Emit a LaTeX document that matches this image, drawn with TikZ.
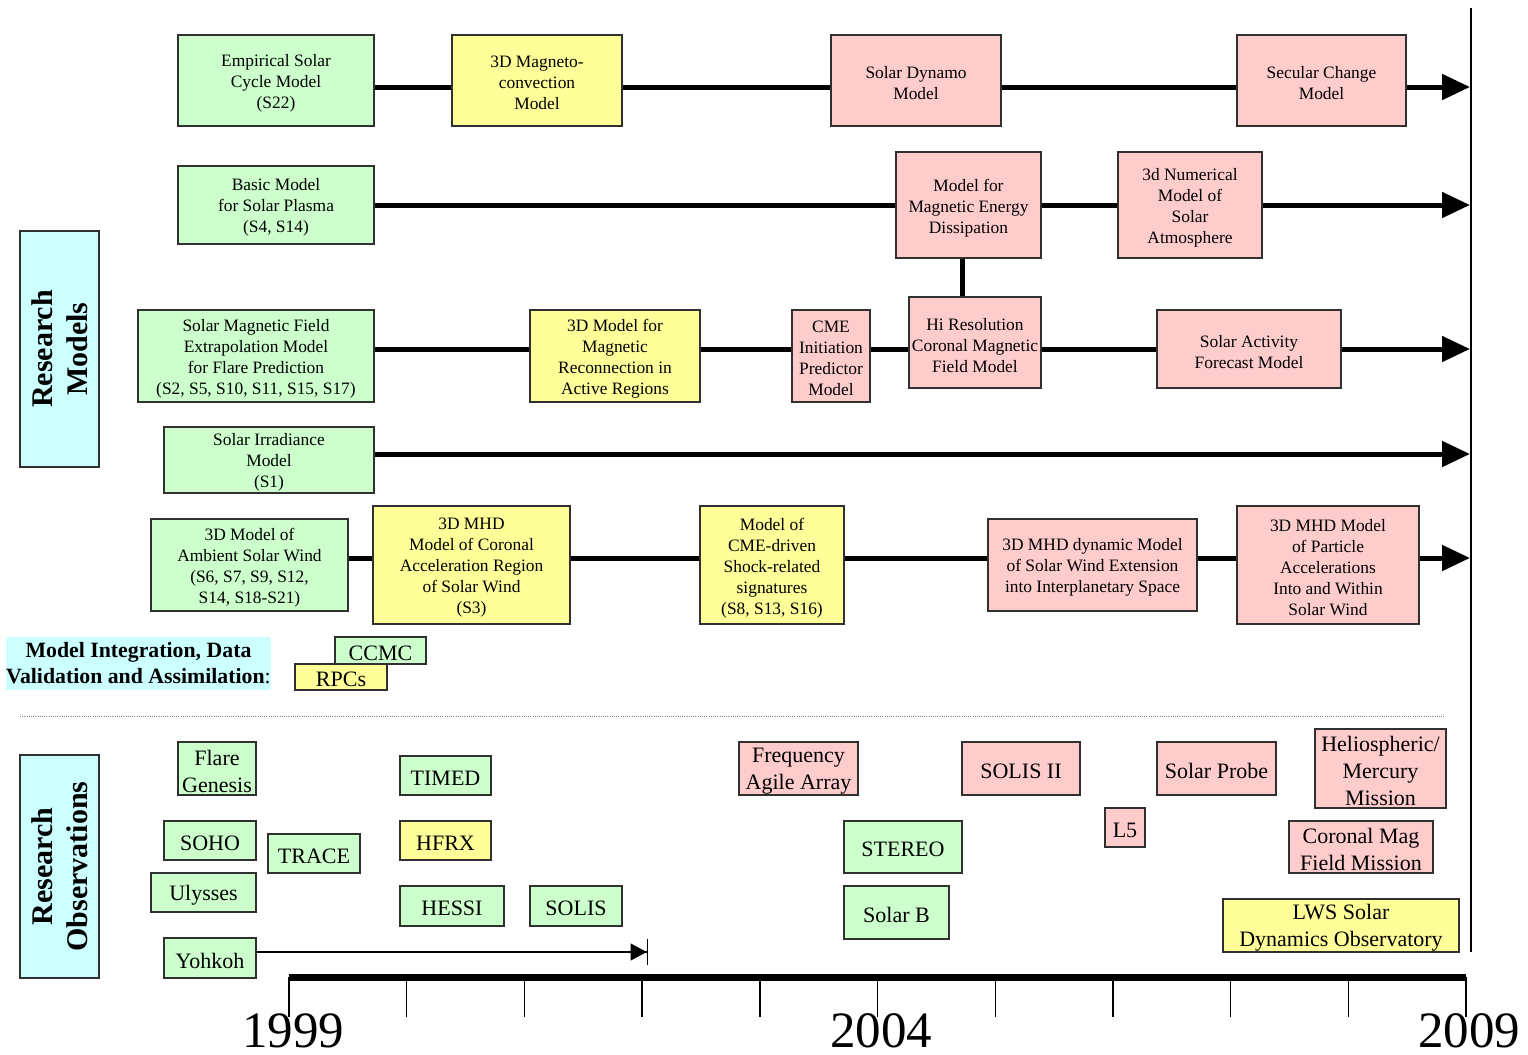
\documentclass[tikz,border=0pt]{standalone}
\usepackage{fontspec}
\setmainfont{Liberation Serif}
\usetikzlibrary{arrows.meta}
\definecolor{cgreen}{HTML}{CCFFCC}
\definecolor{cyellow}{HTML}{FFFF99}
\definecolor{cpink}{HTML}{FFCCCC}
\definecolor{ccyan}{HTML}{CCFFFF}
\definecolor{cedge}{HTML}{303030}
\begin{document}
\begin{tikzpicture}[x=0.5pt,y=-0.5pt,
  box/.style={draw=cedge, line width=0.75pt, inner sep=0pt, anchor=center},
  sz/.style 2 args={minimum width=#1*0.5pt, minimum height=#2*0.5pt},
  mlab/.style={align=center, inner sep=0pt, yshift=-1.4pt, font=\fontsize{8.7}{10.5}\selectfont},
  olab/.style={align=center, inner sep=0pt, yshift=-1.3pt, font=\fontsize{11}{13.5}\selectfont},
  mt/.style={label={[mlab]center:#1}},
  ot/.style={label={[olab]center:#1}},
  gm/.style={box, fill=cgreen},
  ym/.style={box, fill=cyellow},
  pm/.style={box, fill=cpink},
  conn/.style={line width=2.5pt},
  arr/.style={conn, -{Triangle[length=14pt,width=12.5pt]}},
  lbl/.style={draw=cedge, fill=ccyan, line width=0.75pt, rotate=90, align=center, inner sep=0pt,
              font=\bfseries\fontsize{15}{17.5}\selectfont},
  year/.style={font=\fontsize{25.5}{30}\selectfont, inner sep=0pt},
  tick/.style={line width=0.7pt}
]
\useasboundingbox (0,0) rectangle (1528,1055);

% row coordinates
\coordinate (r1) at (0,87);
\coordinate (r2) at (0,205);
\coordinate (r3) at (0,349);
\coordinate (r4) at (0,454);
\coordinate (r5) at (0,558);
\coordinate (end1) at (1470,87);
\coordinate (end2) at (1470,205);
\coordinate (end3) at (1470,349);
\coordinate (end4) at (1470,454);
\coordinate (end5) at (1470,558);
\coordinate (vx) at (962,0);

% labels
\node[lbl, sz={236}{79}] (rm) at (59.5,349) {Research\\Models};
\node[lbl, sz={223}{79}] (ro) at (59.5,866.5) {Research\\Observations};
\node[fill=ccyan, inner sep=0pt, sz={263}{53}, align=center,
      font=\bfseries\fontsize{10.9}{13}\selectfont] (mi) at (138.5,663.5)
      {Model Integration, Data\\Validation and Assimilation\textmd{:}};

% row 1
\node[gm, sz={196}{91}, mt={Empirical Solar\\Cycle Model\\(S22)}] (e1) at (276,80.5) {};
\node[ym, sz={170}{91}, mt={3D Magneto-\\convection\\Model}] (m1) at (537,80.5) {};
\node[pm, sz={170}{91}, mt={Solar Dynamo\\Model}] (d1) at (916,80.5) {};
\node[pm, sz={169}{91}, mt={Secular Change\\Model}] (s1) at (1321.5,80.5) {};

% row 2
\node[gm, sz={196}{78}, mt={Basic Model\\for Solar Plasma\\(S4, S14)}] (bm) at (276,205) {};
\node[pm, sz={145}{106}, mt={Model for\\Magnetic Energy\\Dissipation}] (med) at (968.5,205) {};
\node[pm, sz={144}{106}, mt={3d Numerical\\Model of\\Solar\\Atmosphere}] (num) at (1190,205) {};

% row 3
\node[gm, sz={236}{92}, mt={Solar Magnetic Field\\Extrapolation Model\\for Flare Prediction\\(S2, S5, S10, S11, S15, S17)}] (ext) at (256,356) {};
\node[ym, sz={170}{92}, mt={3D Model for\\Magnetic\\Reconnection in\\Active Regions}] (rec) at (615,356) {};
\node[pm, sz={78}{92}, mt={CME\\Initiation\\Predictor\\Model}] (cme) at (831,356) {};
\node[pm, sz={132}{91}, mt={Hi Resolution\\Coronal Magnetic\\Field Model}] (hir) at (975,342.5) {};
\node[pm, sz={184}{78}, mt={Solar Activity\\Forecast Model}] (saf) at (1249,349) {};

% row 4
\node[gm, sz={210}{66}, mt={Solar Irradiance\\Model\\(S1)}] (irr) at (269,460) {};

% row 5
\node[gm, sz={197}{92}, mt={3D Model of\\Ambient Solar Wind\\(S6, S7, S9, S12,\\S14, S18-S21)}] (amb) at (249.5,565) {};
\node[ym, sz={197}{118}, mt={3D MHD\\Model of Coronal\\Acceleration Region\\of Solar Wind\\(S3)}] (mhd) at (471.5,565) {};
\node[ym, sz={144}{118}, mt={Model of\\CME-driven\\Shock-related\\signatures\\(S8, S13, S16)}] (shk) at (772,565) {};
\node[pm, sz={209}{92}, mt={3D MHD dynamic Model\\of Solar Wind Extension\\into Interplanetary Space}] (dyn) at (1092.5,565) {};
\node[pm, sz={182}{118}, mt={3D MHD Model\\of Particle\\Accelerations\\Into and Within\\Solar Wind}] (par) at (1328,565) {};

% integration
\node[gm, sz={91}{27}, ot={CCMC}] (ccmc) at (380.5,650.5) {};
\node[ym, sz={92}{26}, ot={RPCs}] (rpc) at (341,677) {};

% connectors
\draw[conn] (e1.east |- r1) -- (m1.west |- r1);
\draw[conn] (m1.east |- r1) -- (d1.west |- r1);
\draw[conn] (d1.east |- r1) -- (s1.west |- r1);
\draw[arr] (s1.east |- r1) -- (end1);

\draw[conn] (bm.east |- r2) -- (med.west |- r2);
\draw[conn] (med.east |- r2) -- (num.west |- r2);
\draw[arr] (num.east |- r2) -- (end2);
\draw[conn] (med.south -| vx) -- (hir.north -| vx);

\draw[conn] (ext.east |- r3) -- (rec.west |- r3);
\draw[conn] (rec.east |- r3) -- (cme.west |- r3);
\draw[conn] (cme.east |- r3) -- (hir.west |- r3);
\draw[conn] (hir.east |- r3) -- (saf.west |- r3);
\draw[arr] (saf.east |- r3) -- (end3);

\draw[arr] (irr.east |- r4) -- (end4);

\draw[conn] (amb.east |- r5) -- (mhd.west |- r5);
\draw[conn] (mhd.east |- r5) -- (shk.west |- r5);
\draw[conn] (shk.east |- r5) -- (dyn.west |- r5);
\draw[conn] (dyn.east |- r5) -- (par.west |- r5);
\draw[arr] (par.east |- r5) -- (end5);

% separators
\draw[gray, line width=0.5pt, dash pattern=on 0.5pt off 0.6pt] (20,716) -- (1444,716);
\draw[line width=0.75pt] (1471,8) -- (1471,952);

% observations
\node[gm, sz={78}{53}, ot={Flare\\Genesis}] (fg) at (217,768.5) {};
\node[gm, sz={91}{39}, ot={TIMED}] (timed) at (445.5,775.5) {};
\node[gm, sz={92}{39}, ot={SOHO}] (soho) at (210,840.5) {};
\node[gm, sz={92}{39}, ot={TRACE}] (trace) at (314,853.5) {};
\node[ym, sz={91}{39}, ot={HFRX}] (hfrx) at (445.5,840.5) {};
\node[gm, sz={105}{39}, ot={Ulysses}] (uly) at (203.5,892.5) {};
\node[gm, sz={104}{40}, ot={HESSI}] (hessi) at (452,906) {};
\node[gm, sz={92}{40}, ot={SOLIS}] (solis) at (576,906) {};
\node[gm, sz={92}{40}, ot={Yohkoh}] (yoh) at (210,958) {};
\node[pm, sz={119}{53}, ot={Frequency\\Agile Array}] (faa) at (798.5,768.5) {};
\node[pm, sz={118}{53}, ot={SOLIS II}] (sol2) at (1021,768.5) {};
\node[pm, sz={119}{53}, ot={Solar Probe}] (sp) at (1216.5,768.5) {};
\node[pm, sz={131}{79}, ot={Heliospheric/\\Mercury\\Mission}] (hel) at (1380.5,768.5) {};
\node[pm, sz={40}{39}, ot={L5}] (l5) at (1125,827.5) {};
\node[gm, sz={118}{52}, ot={STEREO}] (stereo) at (903,847) {};
\node[pm, sz={144}{52}, ot={Coronal Mag\\Field Mission}] (cmf) at (1361,847) {};
\node[gm, sz={105}{53}, ot={Solar B}] (solb) at (896.5,912.5) {};
\node[ym, sz={236}{53}, ot={LWS Solar\\Dynamics Observatory}] (lws) at (1341,925.5) {};

\coordinate (yend) at (648,952);
\draw[line width=0.6pt, -{Triangle[length=8pt,width=8.5pt]Bar[width=13pt,line width=0.7pt]}] (yoh.east |- yend) -- (yend);

% timeline
\coordinate (t0) at (289,977);
\coordinate (t1) at (1466,977);
\foreach \i in {0,...,10} {
  \draw[tick] (289+117.7*\i,977) -- (289+117.7*\i,1017);
}
\draw[line width=3.5pt] (t0) -- (t1);
\node[year] (y1999) at (293,1031) {1999};
\node[year] (y2004) at (881,1031) {2004};
\node[year] (y2009) at (1469,1031) {2009};
\end{tikzpicture}
\end{document}
